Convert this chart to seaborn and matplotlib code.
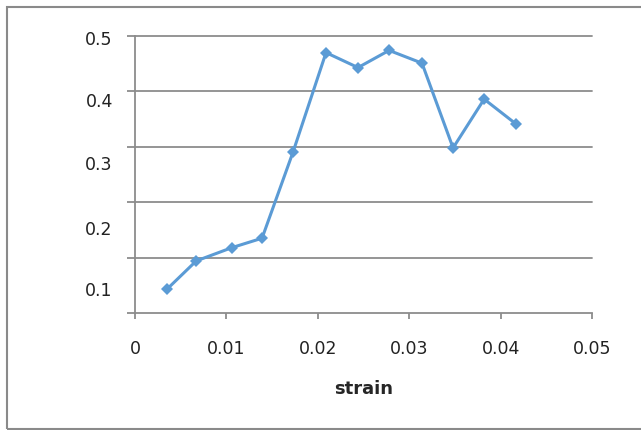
import matplotlib
matplotlib.use("Agg")
import matplotlib.pyplot as plt
import seaborn as sns
import pandas as pd
from matplotlib.patches import Rectangle

# data
strain = [0.0035, 0.0067, 0.0106, 0.0139, 0.0173, 0.0209, 0.0244, 0.0278,
          0.0314, 0.0348, 0.0382, 0.0417]
value = [0.043, 0.094, 0.118, 0.135, 0.291, 0.470, 0.443, 0.474, 0.451,
         0.298, 0.386, 0.341]

x_ticks = [0, 0.01, 0.02, 0.03, 0.04, 0.05]
x_labels = ['0', '0.01', '0.02', '0.03', '0.04', '0.05']
grid_y = [0, 0.1, 0.2, 0.3, 0.4, 0.5]
# the y labels sit on their own spacing, not on the gridlines
ylab_text = ['0.5', '0.4', '0.3', '0.2', '0.1']
ylab_pos = [0.496, 0.385, 0.271, 0.153, 0.043]

df = pd.DataFrame({'strain': strain, 'value': value})

sns.set_style("white")
plt.rcParams['font.family'] = ['DejaVu Sans']

fig = plt.figure(figsize=(6.41, 4.30), dpi=100)
ax = fig.add_axes([135 / 641, 1 - 313 / 430, (592 - 135) / 641, (313 - 36) / 430])

grey = '#8c8c8c'
for g in grid_y[1:]:
    ax.axhline(g, color=grey, lw=1.3, zorder=1, clip_on=False)

sns.lineplot(data=df, x='strain', y='value', ax=ax, color='#5b9bd5',
             lw=2.2, marker='D', markersize=6.5, markeredgewidth=0, zorder=3)

ax.set_xlim(0, 0.05)
ax.set_ylim(0, 0.5)
ax.set_xticks(x_ticks)
ax.set_xticklabels(x_labels)
ax.set_yticks(grid_y)
ax.set_yticklabels([])
ax.set_yticks(ylab_pos, minor=True)
ax.set_yticklabels(ylab_text, minor=True)

ax.tick_params(axis='x', which='major', bottom=True, length=4.5, width=1.3,
               color=grey, direction='out', pad=15, labelsize=12.5,
               labelcolor='#222222')
ax.tick_params(axis='y', which='major', left=True, length=5.5, width=1.3,
               color=grey, direction='out')
ax.tick_params(axis='y', which='minor', left=True, length=0, pad=16,
               labelsize=12.5, labelcolor='#222222')

for side in ['top', 'right']:
    ax.spines[side].set_visible(False)
for side in ['left', 'bottom']:
    ax.spines[side].set_color(grey)
    ax.spines[side].set_linewidth(1.3)

ax.set_ylabel('')
ax.set_xlabel('strain', fontsize=13, fontweight='bold', labelpad=16)

# outer chart-area border
fig.patches.append(Rectangle((6.5 / 641, 1.5 / 430), 640 / 641, 422 / 430,
                             transform=fig.transFigure, fill=False,
                             edgecolor='#8a8a8a', lw=1.5))

fig.savefig('out.png', dpi=100)
plt.close(fig)
